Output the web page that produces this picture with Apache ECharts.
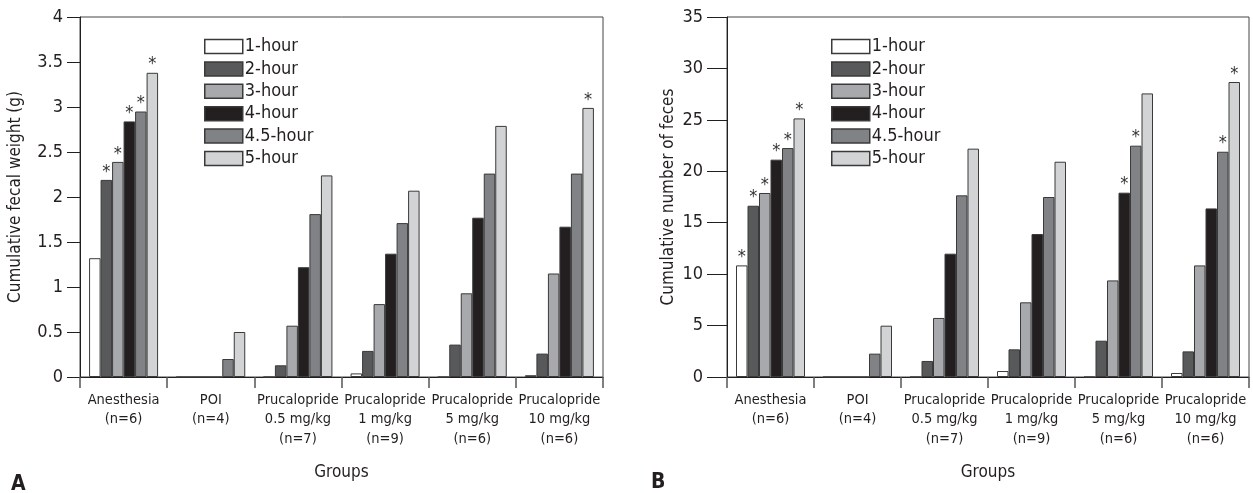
<!DOCTYPE html>
<html>
<head>
<meta charset="utf-8">
<script src="https://cdn.jsdelivr.net/npm/echarts@6/dist/echarts.min.js"></script>
<style>
  html, body { margin: 0; padding: 0; background: #fff; }
  #chart { width: 1253px; height: 493px; }
</style>
</head>
<body>
<div id="chart"></div>
<script>
// categories and series names
const groups = [
  'Anesthesia\n(n=6)',
  'POI\n(n=4)',
  'Prucalopride\n0.5 mg/kg\n(n=7)',
  'Prucalopride\n1 mg/kg\n(n=9)',
  'Prucalopride\n5 mg/kg\n(n=6)',
  'Prucalopride\n10 mg/kg\n(n=6)'
];
const hours = ['1-hour', '2-hour', '3-hour', '4-hour', '4.5-hour', '5-hour'];
const hourColors = ['#ffffff', '#58595b', '#a7a9ac', '#231f20', '#808285', '#d1d3d4'];

// A: cumulative fecal weight (g), one array per hour, values per group
const weight1h = [1.32, 0, 0, 0.04, 0, 0.02];
const weight2h = [2.19, 0, 0.13, 0.29, 0.36, 0.26];
const weight3h = [2.39, 0, 0.57, 0.81, 0.93, 1.15];
const weight4h = [2.84, 0, 1.22, 1.37, 1.77, 1.67];
const weight45h = [2.95, 0.20, 1.81, 1.71, 2.26, 2.26];
const weight5h = [3.38, 0.50, 2.24, 2.07, 2.79, 2.99];
// significance marks (*) for A
const weightStar1h = [0, 0, 0, 0, 0, 0];
const weightStar2h = [1, 0, 0, 0, 0, 0];
const weightStar3h = [1, 0, 0, 0, 0, 0];
const weightStar4h = [1, 0, 0, 0, 0, 0];
const weightStar45h = [1, 0, 0, 0, 0, 0];
const weightStar5h = [1, 0, 0, 0, 0, 1];

// B: cumulative number of feces
const count1h = [10.85, 0, 0, 0.58, 0, 0.39];
const count2h = [16.65, 0, 1.56, 2.69, 3.53, 2.49];
const count3h = [17.89, 0, 5.74, 7.26, 9.39, 10.85];
const count4h = [21.13, 0, 11.99, 13.9, 17.92, 16.39];
const count45h = [22.26, 2.27, 17.66, 17.5, 22.49, 21.9];
const count5h = [25.14, 4.99, 22.2, 20.93, 27.57, 28.68];
const countStar1h = [1, 0, 0, 0, 0, 0];
const countStar2h = [1, 0, 0, 0, 0, 0];
const countStar3h = [1, 0, 0, 0, 0, 0];
const countStar4h = [1, 0, 0, 0, 1, 0];
const countStar45h = [1, 0, 0, 0, 1, 1];
const countStar5h = [1, 0, 0, 0, 0, 1];

const weightTicks = { min: 0, max: 4, interval: 0.5 };
const countTicks = { min: 0, max: 35, interval: 5 };

const FONT = '"DejaVu Sans Condensed", "Liberation Sans Narrow", sans-serif';

const chart = echarts.init(document.getElementById('chart'));

function makeSeries(valueSets, starSets, axisIndex) {
  // one bar series per hour, star label only where flagged
  return valueSets.map((values, i) => ({
    name: hours[i],
    type: 'bar',
    xAxisIndex: axisIndex,
    yAxisIndex: axisIndex,
    barWidth: 11.5,
    barGap: '0%',
    itemStyle: {
      color: hourColors[i],
      borderColor: '#3a3a3a',
      borderWidth: 1
    },
    label: {
      show: false,
      position: 'top',
      distance: -1,
      formatter: '*',
      fontFamily: FONT,
      fontSize: 18,
      color: '#333'
    },
    emphasis: { disabled: true },
    data: values.map((v, j) => starSets[i][j]
      ? { value: v, label: { show: true } }
      : v)
  }));
}

function xAxisFor(gridIndex) {
  return {
    type: 'category',
    gridIndex: gridIndex,
    data: groups,
    name: 'Groups',
    nameLocation: 'middle',
    nameGap: 87,
    nameTextStyle: { fontFamily: FONT, fontSize: 17, color: '#231f20' },
    axisLine: { lineStyle: { color: '#231f20', width: 1 } },
    axisTick: { show: true, length: 11, lineStyle: { color: '#555', width: 1.5 } },
    axisLabel: {
      interval: 0,
      margin: 13,
      fontFamily: FONT,
      fontSize: 14.5,
      lineHeight: 19.5,
      color: '#231f20'
    }
  };
}

function yAxisFor(gridIndex, ticks, name, nameGap, tickLen, margin) {
  return {
    type: 'value',
    gridIndex: gridIndex,
    min: ticks.min,
    max: ticks.max,
    interval: ticks.interval,
    name: name,
    nameLocation: 'middle',
    nameGap: nameGap,
    nameTextStyle: { fontFamily: FONT, fontSize: 17, color: '#231f20' },
    axisLine: { show: true, lineStyle: { color: '#231f20', width: 1 } },
    axisTick: { show: true, length: tickLen, lineStyle: { color: '#231f20', width: 1 } },
    axisLabel: { margin: margin, fontFamily: FONT, fontSize: 18, color: '#231f20' },
    splitLine: { show: false }
  };
}

function legendFor(left) {
  return {
    left: left,
    top: 37.5,
    padding: 0,
    orient: 'vertical',
    itemWidth: 38,
    itemHeight: 14,
    itemGap: 4.4,
    icon: 'rect',
    selectedMode: false,
    data: hours,
    textStyle: {
      fontFamily: FONT,
      fontSize: 18,
      color: '#231f20',
      padding: [0, 0, 0, -3]
    },
    itemStyle: { borderColor: '#3a3a3a', borderWidth: 1.5 }
  };
}

const option = {
  animation: false,
  grid: [
    { left: 80, right: 650, top: 17, bottom: 116, show: true, borderColor: '#444', borderWidth: 1, backgroundColor: 'transparent' },
    { left: 727, right: 4, top: 17, bottom: 116, show: true, borderColor: '#444', borderWidth: 1, backgroundColor: 'transparent' }
  ],
  legend: [legendFor(204), legendFor(831)],
  xAxis: [xAxisFor(0), xAxisFor(1)],
  yAxis: [
    yAxisFor(0, weightTicks, 'Cumulative fecal weight (g)', 56, 13, 17),
    yAxisFor(1, countTicks, 'Cumulative number of feces', 50, 20, 24)
  ],
  graphic: [
    { type: 'text', left: 11, top: 474, style: { text: 'A', font: 'bold 21px ' + FONT, fill: '#231f20' } },
    { type: 'text', left: 651, top: 472, style: { text: 'B', font: 'bold 21px ' + FONT, fill: '#231f20' } }
  ],
  series: [
    ...makeSeries([weight1h, weight2h, weight3h, weight4h, weight45h, weight5h],
      [weightStar1h, weightStar2h, weightStar3h, weightStar4h, weightStar45h, weightStar5h], 0),
    ...makeSeries([count1h, count2h, count3h, count4h, count45h, count5h],
      [countStar1h, countStar2h, countStar3h, countStar4h, countStar45h, countStar5h], 1)
  ]
};

chart.setOption(option);
</script>
</body>
</html>
